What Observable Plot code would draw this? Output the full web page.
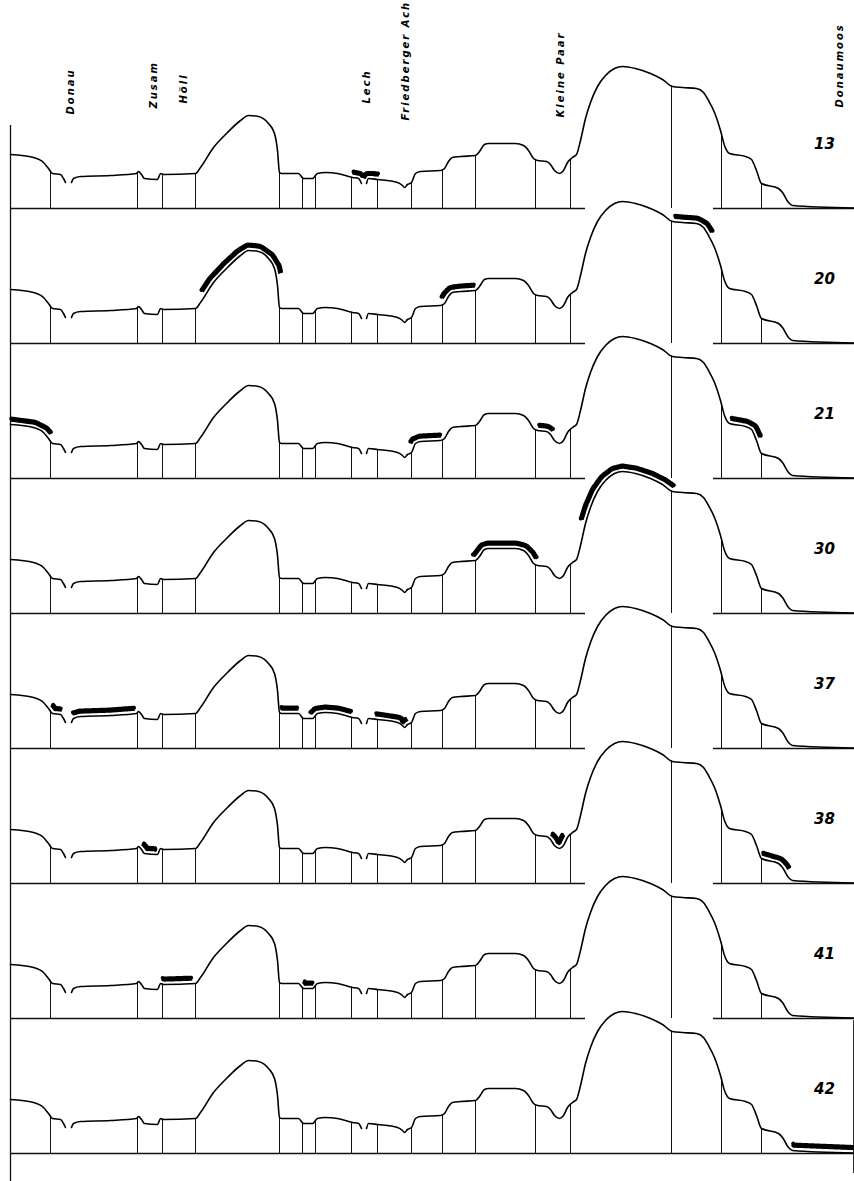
<!DOCTYPE html>
<html>
<head>
<meta charset="utf-8">
<script src="https://cdn.jsdelivr.net/npm/d3@7"></script>
<script src="https://cdn.jsdelivr.net/npm/@observablehq/plot@0.6"></script>
<style>
  html, body { margin: 0; padding: 0; background: #fff; }
  #chart svg { display: block; }
</style>
</head>
<body>
<div id="chart"></div>
<script>
// ---- data ----
const rows = ["13", "20", "21", "30", "37", "38", "41", "42"];

// terrain profile: distance along section and height above the row baseline (null = river gap)
const profileX = [10, 33, 43, 48, 52, 60, 63, 65, 68, 71, 73, 80, 110, 136, 138, 141, 144, 157, 160, 163, 195, 200, 213, 227, 240, 248, 258, 268, 274, 277, 279, 281, 298, 303, 312, 317, 325, 337, 352, 358, 361, 363, 366, 368, 377, 397, 402, 404, 407, 411, 415, 420, 440, 444, 448, 452, 460, 475, 479, 484, 488, 515, 523, 528, 533, 537, 546, 550, 554, 559, 563, 567, 572, 576, 580, 585, 590, 597, 605, 614, 622, 635, 650, 662, 672, 682, 696, 703, 708, 714, 720, 724, 729, 745, 751, 756, 761, 778, 782, 788, 792, 854];
const profileH = [54, 51, 46, 40, 35, 34, 30, 26, null, 26, 30, 32, 33, 35, 37, 34, 30, 29, 35, 34, 35, 41, 61, 76, 88, 93, 92, 85, 75, 58, 36, 35, 35, 30, 30, 35, 36, 35, 31, 30, 25, null, 25, 30, 29, 26, 23, 21, 24, 26, 35, 37, 38, 40, 47, 51, 52, 53, 57, 64, 65, 65, 63, 58, 50, 48, 47, 44, 38, 35, 38, 46, 51, 54, 68, 90, 106, 122, 133, 140, 142, 140, 135, 129, 122, 121, 120, 116, 108, 96, 78, 63, 55, 52, 49, 38, 25, 20, 16, 6, 3, 0.5];

// section dividers (vertical lines)
const dividerX = [50, 137, 162, 195, 279, 302, 315, 351, 377, 411, 442, 475, 535, 570, 671, 721, 761];

// river / area names at top
const riverNames = ["Donau", "Zusam", "Höll", "Lech", "Friedberger Ach", "Kleine Paar", "Donaumoos"];
const riverX = [70, 153, 183, 366, 405, 560, 839];
const riverLabelBase = [94, 100, 105, 105, 88, 91, 101];

// baseline interruption under the big hill (all rows but the last)
const baseGap = [585, 713];

// highlighted (hatched) stretches per row
const hlRow = ["13", "13", "20", "20", "20", "21", "21", "21", "21", "30", "30", "37", "37", "37", "37", "37", "37", "38", "38", "38", "41", "41", "42"];
const hlX0  = [352, 367, 206, 446, 674, 10, 414, 538, 730, 477, 586, 48, 74, 280, 314, 375, 403, 139, 548, 761, 161, 300, 790];
const hlX1  = [359, 377, 275, 474, 707, 46, 440, 549, 755, 531, 670, 60, 134, 297, 349, 399, 409, 158, 567, 784, 191, 312, 854];

// ---- derived tables ----
const profile = profileX.map((x, i) => ({x, h: profileH[i]}));
function interp(x) {
  for (let i = 0; i < profile.length - 1; i++) {
    const a = profile[i], b = profile[i + 1];
    if (x >= a.x && x <= b.x) {
      if (a.h == null || b.h == null) return a.h ?? b.h;
      return a.h + (b.h - a.h) * (x - a.x) / (b.x - a.x);
    }
  }
  return profile[profile.length - 1].h;
}
const profileRows = rows.flatMap(row => profile.map(p => ({row, x: p.x, h: p.h})));
const dividers = rows.flatMap(row => dividerX.map(x => ({row, x, h: interp(x)})));
const last = rows[rows.length - 1];
const baseSegs = rows.flatMap(row => row === last
  ? [{row, x1: 10, x2: 854}]
  : [{row, x1: 10, x2: baseGap[0]}, {row, x1: baseGap[1], x2: 854}]);
const axisSegs = rows.map((row, i) => ({row, y1: i === rows.length - 1 ? -29 : 0, y2: i === 0 ? 83 : 135}));

function offsetPath(off) {
  const out = [];
  hlRow.forEach((row, k) => {
    const x0 = hlX0[k], x1 = hlX1[k];
    const n = Math.max(3, Math.round((x1 - x0) / 1.5));
    const pts = [];
    for (let j = 0; j <= n; j++) { const x = x0 + (x1 - x0) * j / n; pts.push([x, interp(x)]); }
    pts.forEach((p, j) => {
      const a = pts[Math.max(0, j - 2)], b = pts[Math.min(pts.length - 1, j + 2)];
      const dx = b[0] - a[0], dh = b[1] - a[1], L = Math.hypot(dx, dh) || 1;
      out.push({id: k, row, x: p[0] - off * dh / L, h: p[1] + off * dx / L});
    });
  });
  return out;
}
const hlSolid = offsetPath(3.8);
const hlHatch = offsetPath(6.0);

const riverLabels = riverNames.map((name, i) => ({row: rows[0], name, x: riverX[i], h: riverLabelBase[i]}));

// ---- plot ----
const chart = Plot.plot({
  width: 854,
  height: 1181,
  marginLeft: 10,
  marginRight: 0,
  marginTop: 73,
  marginBottom: 28,
  x: {domain: [10, 854], axis: null},
  y: {domain: [0, 135], axis: null},
  fy: {domain: rows, padding: 0, axis: null},
  style: {background: "#fff"},
  marks: [
    Plot.ruleY(baseSegs, {y: () => 0, x1: "x1", x2: "x2", fy: "row", stroke: "#111", strokeWidth: 1.3}),
    Plot.ruleX(axisSegs, {x: () => 10, y1: "y1", y2: "y2", fy: "row", stroke: "#111", strokeWidth: 1.3}),
    Plot.ruleX([last], {x: () => 853, y1: () => -20, y2: () => 133, fy: d => d, stroke: "#333", strokeWidth: 1}),
    Plot.ruleX(dividers, {x: "x", y1: () => 0, y2: "h", fy: "row", stroke: "#111", strokeWidth: 1}),
    Plot.line(profileRows, {x: "x", y: "h", z: "row", fy: "row", curve: "monotone-x", stroke: "#000", strokeWidth: 1.6}),
    Plot.line(hlSolid, {x: "x", y: "h", z: "id", fy: "row", curve: "catmull-rom", stroke: "#000", strokeWidth: 2}),
    Plot.line(hlHatch, {x: "x", y: "h", z: "id", fy: "row", curve: "catmull-rom", stroke: "#000", strokeWidth: 4, strokeDasharray: "1,1.1"}),
    Plot.text(rows, {x: () => 824, y: () => 64, fy: d => d, text: d => d, fontSize: 15, fontStyle: "italic", fontWeight: 600, fontFamily: "DejaVu Sans", fill: "#000"}),
    Plot.text(riverLabels, {x: "x", y: "h", fy: "row", text: "name", rotate: -90, textAnchor: "start", fontSize: 10, fontStyle: "italic", fontWeight: 600, fontFamily: "DejaVu Sans", fill: "#000"})
  ]
});
d3.select(chart).selectAll("text").filter(function() { return riverNames.includes(this.textContent); })
  .attr("letter-spacing", "2px");
document.getElementById("chart").appendChild(chart);
</script>
</body>
</html>
